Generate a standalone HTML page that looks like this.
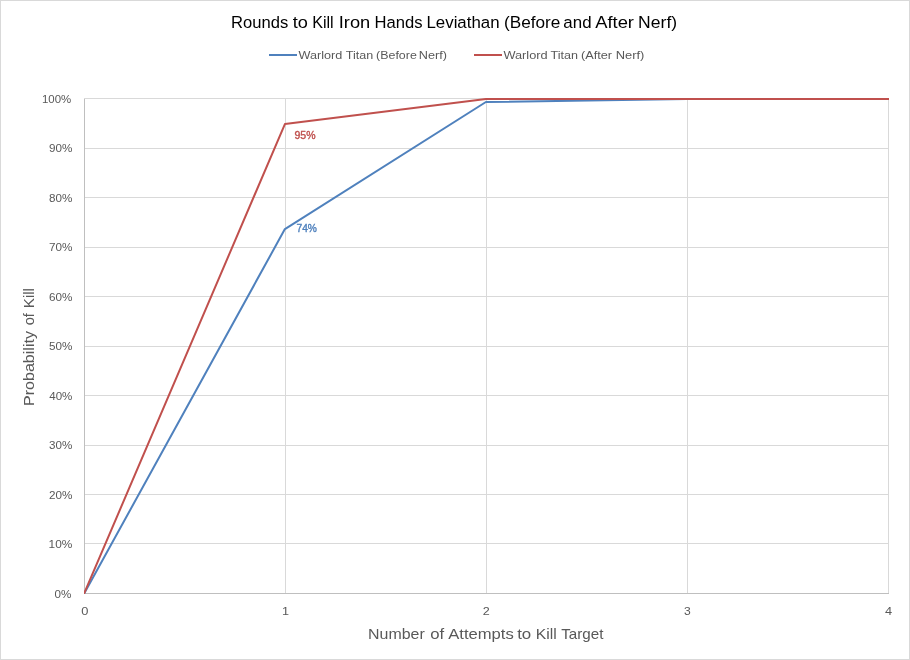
<!DOCTYPE html>
<html lang="en">
<head>
<meta charset="utf-8">
<title>Rounds to Kill Iron Hands Leviathan (Before and After Nerf)</title>
<style>
html,body{margin:0;padding:0;background:#fff;}
body{width:910px;height:660px;overflow:hidden;}
svg{display:block;}
text{font-family:"Liberation Sans","DejaVu Sans",sans-serif;}
</style>
</head>
<body>
<svg width="910" height="660" viewBox="0 0 910 660">
<rect x="0" y="0" width="910" height="660" fill="#ffffff"/>
<rect x="0.5" y="0.5" width="909" height="659" fill="none" stroke="#d9d9d9" stroke-width="1"/>
<!-- gridlines -->
<g stroke="#d9d9d9" stroke-width="1" shape-rendering="crispEdges">
<line x1="84" x2="889" y1="98.5" y2="98.5"/>
<line x1="84" x2="889" y1="148.5" y2="148.5"/>
<line x1="84" x2="889" y1="197.5" y2="197.5"/>
<line x1="84" x2="889" y1="247.5" y2="247.5"/>
<line x1="84" x2="889" y1="296.5" y2="296.5"/>
<line x1="84" x2="889" y1="346.5" y2="346.5"/>
<line x1="84" x2="889" y1="395.5" y2="395.5"/>
<line x1="84" x2="889" y1="445.5" y2="445.5"/>
<line x1="84" x2="889" y1="494.5" y2="494.5"/>
<line x1="84" x2="889" y1="543.5" y2="543.5"/>
<line x1="285.5" x2="285.5" y1="98" y2="594"/>
<line x1="486.5" x2="486.5" y1="98" y2="594"/>
<line x1="687.5" x2="687.5" y1="98" y2="594"/>
<line x1="888.5" x2="888.5" y1="98" y2="594"/>
</g>
<!-- axes -->
<g stroke="#bfbfbf" stroke-width="1" shape-rendering="crispEdges">
<line x1="84.5" x2="84.5" y1="99" y2="594"/>
<line x1="84" x2="889" y1="593.5" y2="593.5"/>
</g>
<!-- series -->
<clipPath id="plot"><rect x="84" y="97" width="805" height="497"/></clipPath>
<g clip-path="url(#plot)">
<polyline fill="none" stroke="#4f81bd" stroke-width="2" stroke-linejoin="round" stroke-linecap="round" points="83.9,594 284.9,229.1 485.9,102 686.9,99 890,99"/>
<polyline fill="none" stroke="#c0504d" stroke-width="2" stroke-linejoin="round" stroke-linecap="round" points="83.9,594 284.9,124.1 485.9,99 686.9,99 890,99"/>
</g>
<!-- data labels -->
<g>
<text x="294.54" y="138.8" font-size="11.4px" fill="#c0504d" textLength="21.02" lengthAdjust="spacingAndGlyphs" stroke="#c0504d" stroke-width="0.4">95%</text>
<text x="296.51" y="231.9" font-size="11.4px" fill="#4f81bd" textLength="20.44" lengthAdjust="spacingAndGlyphs" stroke="#4f81bd" stroke-width="0.4">74%</text>
</g>
<!-- title -->
<g>
<text y="28" font-size="16.7px" fill="#000000"><tspan x="231.1" textLength="57.22" lengthAdjust="spacingAndGlyphs">Rounds</tspan> <tspan x="292.7" textLength="15.14" lengthAdjust="spacingAndGlyphs">to</tspan> <tspan x="312.14" textLength="21.53" lengthAdjust="spacingAndGlyphs">Kill</tspan> <tspan x="338.77" textLength="31.45" lengthAdjust="spacingAndGlyphs">Iron</tspan> <tspan x="374.6" textLength="48.02" lengthAdjust="spacingAndGlyphs">Hands</tspan> <tspan x="426.48" textLength="73.06" lengthAdjust="spacingAndGlyphs">Leviathan</tspan> <tspan x="503.99" textLength="56.4" lengthAdjust="spacingAndGlyphs">(Before</tspan> <tspan x="563.37" textLength="28.18" lengthAdjust="spacingAndGlyphs">and</tspan> <tspan x="595.2" textLength="38.79" lengthAdjust="spacingAndGlyphs">After</tspan> <tspan x="638.13" textLength="38.98" lengthAdjust="spacingAndGlyphs">Nerf)</tspan></text>
</g>
<!-- legend -->
<line x1="269" x2="297" y1="55" y2="55" stroke="#4f81bd" stroke-width="2"/>
<g>
<text y="58.8" font-size="11.2px" fill="#595959"><tspan x="298.5" textLength="43.87" lengthAdjust="spacingAndGlyphs">Warlord</tspan> <tspan x="345.72" textLength="27.44" lengthAdjust="spacingAndGlyphs">Titan</tspan> <tspan x="376.08" textLength="40.75" lengthAdjust="spacingAndGlyphs">(Before</tspan> <tspan x="418.78" textLength="28.19" lengthAdjust="spacingAndGlyphs">Nerf)</tspan></text>
</g>
<line x1="474" x2="502" y1="55" y2="55" stroke="#c0504d" stroke-width="2"/>
<g>
<text y="58.8" font-size="11.2px" fill="#595959"><tspan x="503.4" textLength="44.27" lengthAdjust="spacingAndGlyphs">Warlord</tspan> <tspan x="550.62" textLength="27.44" lengthAdjust="spacingAndGlyphs">Titan</tspan> <tspan x="580.96" textLength="31.14" lengthAdjust="spacingAndGlyphs">(After</tspan> <tspan x="615.66" textLength="28.72" lengthAdjust="spacingAndGlyphs">Nerf)</tspan></text>
</g>
<!-- y axis labels -->
<g>
<text x="41.95" y="103" font-size="11.4px" fill="#595959" textLength="29.24" lengthAdjust="spacingAndGlyphs">100%</text>
<text x="48.99" y="152" font-size="11.4px" fill="#595959" textLength="23.41" lengthAdjust="spacingAndGlyphs">90%</text>
<text x="49.04" y="202" font-size="11.4px" fill="#595959" textLength="23.36" lengthAdjust="spacingAndGlyphs">80%</text>
<text x="48.93" y="251" font-size="11.4px" fill="#595959" textLength="23.46" lengthAdjust="spacingAndGlyphs">70%</text>
<text x="48.93" y="301" font-size="11.4px" fill="#595959" textLength="23.46" lengthAdjust="spacingAndGlyphs">60%</text>
<text x="49.04" y="350" font-size="11.4px" fill="#595959" textLength="23.36" lengthAdjust="spacingAndGlyphs">50%</text>
<text x="49.25" y="400" font-size="11.4px" fill="#595959" textLength="23.15" lengthAdjust="spacingAndGlyphs">40%</text>
<text x="49.09" y="449" font-size="11.4px" fill="#595959" textLength="23.3" lengthAdjust="spacingAndGlyphs">30%</text>
<text x="48.93" y="499" font-size="11.4px" fill="#595959" textLength="23.46" lengthAdjust="spacingAndGlyphs">20%</text>
<text x="48.61" y="548" font-size="11.4px" fill="#595959" textLength="23.79" lengthAdjust="spacingAndGlyphs">10%</text>
<text x="54.59" y="598" font-size="11.4px" fill="#595959" textLength="16.8" lengthAdjust="spacingAndGlyphs">0%</text>
</g>
<!-- x axis labels -->
<g>
<text x="81.15" y="615" font-size="11.4px" fill="#595959" textLength="7.15" lengthAdjust="spacingAndGlyphs">0</text>
<text x="282.06" y="615" font-size="11.4px" fill="#595959" textLength="7.04" lengthAdjust="spacingAndGlyphs">1</text>
<text x="482.89" y="615" font-size="11.4px" fill="#595959" textLength="7.0" lengthAdjust="spacingAndGlyphs">2</text>
<text x="684.07" y="615" font-size="11.4px" fill="#595959" textLength="6.75" lengthAdjust="spacingAndGlyphs">3</text>
<text x="885.02" y="615" font-size="11.4px" fill="#595959" textLength="7.11" lengthAdjust="spacingAndGlyphs">4</text>
</g>
<!-- axis titles -->
<g>
<text y="639" font-size="15px" fill="#595959"><tspan x="368.05" textLength="56.72" lengthAdjust="spacingAndGlyphs">Number</tspan> <tspan x="430.18" textLength="13.97" lengthAdjust="spacingAndGlyphs">of</tspan> <tspan x="448.2" textLength="65.62" lengthAdjust="spacingAndGlyphs">Attempts</tspan> <tspan x="517.2" textLength="14.08" lengthAdjust="spacingAndGlyphs">to</tspan> <tspan x="535.87" textLength="20.96" lengthAdjust="spacingAndGlyphs">Kill</tspan> <tspan x="561.16" textLength="42.29" lengthAdjust="spacingAndGlyphs">Target</tspan></text>
</g>
<g transform="translate(34,404.8) rotate(-90)">
<text y="0" font-size="15px" fill="#595959"><tspan x="-1.26" textLength="75.06" lengthAdjust="spacingAndGlyphs">Probability</tspan> <tspan x="79.54" textLength="12.21" lengthAdjust="spacingAndGlyphs">of</tspan> <tspan x="96.62" textLength="20.18" lengthAdjust="spacingAndGlyphs">Kill</tspan></text>
</g>
</svg>
</body>
</html>
